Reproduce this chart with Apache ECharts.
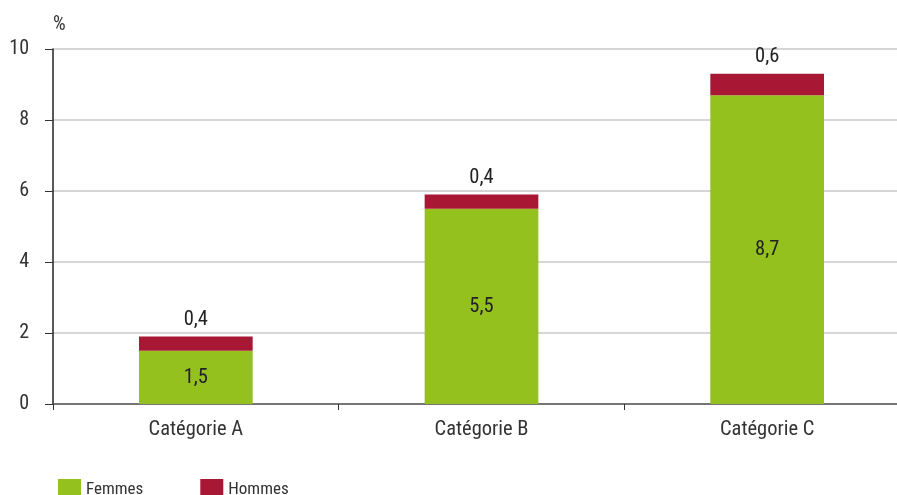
<!DOCTYPE html>
<html><head><meta charset="utf-8">
<script src="https://cdn.jsdelivr.net/npm/echarts@6/dist/echarts.min.js"></script>
<style>html,body{margin:0;padding:0;background:#fff}#c{width:897px;height:495px}</style>
</head><body><div id="c"></div>
<script>
var categories = ['Catégorie A', 'Catégorie B', 'Catégorie C'];
var femmes = [1.5, 5.5, 8.7];
var hommes = [0.4, 0.4, 0.6];
var yTicks = [0, 2, 4, 6, 8, 10];
var FONT = '"Roboto Condensed", "Roboto", sans-serif';
var fmt = function (v) { return String(v).replace('.', ','); };
var chart = echarts.init(document.getElementById('c'));
chart.setOption({
  animation: false,
  textStyle: { fontFamily: FONT },
  grid: { left: 53, top: 49, width: 857, height: 355, outerBoundsMode: 'none', containLabel: false },
  legend: {
    left: 53, top: 474, itemWidth: 23, itemHeight: 21, itemGap: 57,
    icon: 'rect',
    textStyle: { fontFamily: FONT, fontSize: 17, color: '#333', padding: [8, 0, 0, 0] },
    data: ['Femmes', 'Hommes']
  },
  xAxis: {
    type: 'category', data: categories,
    axisLine: { lineStyle: { color: '#555', width: 1.5 } },
    axisTick: { show: true, length: 6, lineStyle: { color: '#333' } },
    axisLabel: { fontFamily: FONT, fontSize: 20.5, color: '#333', margin: 15 }
  },
  yAxis: {
    type: 'value', min: 0, max: 10, interval: 2,
    name: '%', nameGap: 14, nameLocation: 'end',
    nameTextStyle: { fontFamily: FONT, fontSize: 20, color: '#333', align: 'left', padding: [0, 0, 0, 0] },
    axisLine: { show: true, lineStyle: { color: '#222', width: 1.5 } },
    axisTick: { show: true, length: 8, lineStyle: { color: '#333' } },
    axisLabel: { fontFamily: FONT, fontSize: 20, color: '#333', margin: 24,
      formatter: function (v) { return yTicks.indexOf(v) >= 0 ? String(v) : ''; } },
    splitLine: { lineStyle: { color: '#c8c8c8', width: 1.5 } }
  },
  series: [
    { name: 'Femmes', type: 'bar', stack: 's', data: femmes, barWidth: '39.8%',
      itemStyle: { color: '#95c11f' },
      label: { show: true, position: 'inside', fontFamily: FONT, fontSize: 20.5, color: '#222',
        formatter: function (p) { return fmt(p.value); } } },
    { name: 'Hommes', type: 'bar', stack: 's', data: hommes,
      itemStyle: { color: '#a81834' },
      label: { show: true, position: 'top', distance: 6, fontFamily: FONT, fontSize: 20.5, color: '#222',
        formatter: function (p) { return fmt(p.value); } } }
  ]
});
</script></body></html>
